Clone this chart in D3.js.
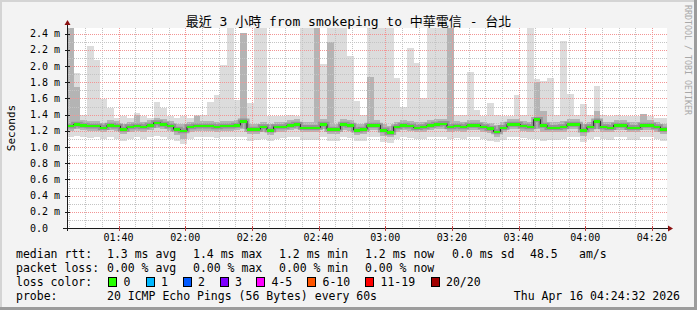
<!DOCTYPE html>
<html>
<head>
<meta charset="utf-8">
<script src="https://cdn.jsdelivr.net/npm/d3@7"></script>
<style>
  body { margin: 0; background: #f3f3f3; }
  svg { display: block; }
  text { font-family: "DejaVu Sans Mono", "Noto Sans CJK TC", monospace; }
</style>
</head>
<body>
<div id="chart"></div>
<script>
// time window and sampling
const startTime = new Date(2026, 3, 16, 1, 24, 32);
const endTime = new Date(2026, 3, 16, 4, 24, 32);
const stepMinutes = 2;

// median rtt per sample (ms)
const median = [
  1.26, 1.28, 1.27, 1.26, 1.26, 1.24, 1.27, 1.26, 1.22, 1.25,
  1.26, 1.25, 1.27, 1.30, 1.28, 1.26, 1.22, 1.20, 1.25, 1.26,
  1.26, 1.26, 1.25, 1.26, 1.26, 1.27, 1.32, 1.22, 1.22, 1.25,
  1.21, 1.25, 1.25, 1.27, 1.28, 1.24, 1.24, 1.24, 1.28, 1.22,
  1.22, 1.28, 1.27, 1.21, 1.22, 1.27, 1.27, 1.21, 1.18, 1.25,
  1.27, 1.26, 1.24, 1.25, 1.27, 1.28, 1.29, 1.25, 1.26, 1.25,
  1.27, 1.27, 1.25, 1.23, 1.19, 1.24, 1.28, 1.28, 1.26, 1.25,
  1.34, 1.27, 1.24, 1.24, 1.25, 1.28, 1.28, 1.21, 1.25, 1.32,
  1.25, 1.24, 1.27, 1.27, 1.24, 1.24, 1.27, 1.27, 1.25, 1.22
];
// smoke: slowest ping per sample
const smokeMax = [
  2.47, 1.92, 1.40, 2.25, 2.07, 1.59, 1.48, 1.36, 1.38, 1.36,
  1.42, 1.38, 1.36, 1.56, 1.48, 1.38, 1.36, 1.38, 1.36, 1.40,
  1.40, 1.56, 1.64, 2.01, 2.47, 1.58, 2.41, 1.54, 2.47, 2.47,
  1.38, 1.38, 1.38, 1.40, 1.38, 2.47, 2.47, 2.47, 2.02, 2.47,
  2.47, 2.47, 2.12, 1.57, 1.40, 2.47, 2.47, 2.47, 2.47, 1.85,
  1.50, 2.22, 2.04, 1.60, 2.47, 2.47, 2.47, 2.47, 1.40, 1.40,
  1.93, 1.46, 1.38, 1.54, 1.40, 1.38, 1.38, 1.64, 1.40, 2.47,
  1.84, 1.82, 1.85, 1.40, 2.31, 1.65, 1.40, 1.53, 1.40, 1.75,
  1.40, 1.38, 1.40, 1.38, 1.38, 1.38, 1.41, 1.38, 1.36, 1.36
];
// smoke: upper of the middle pings
const smokeHi = [
  2.47, 1.74, 1.33, 1.32, 1.32, 1.30, 1.33, 1.32, 1.29, 1.31,
  1.40, 1.31, 1.33, 1.36, 1.34, 1.32, 1.29, 1.28, 1.31, 1.38,
  1.32, 1.32, 1.31, 1.32, 1.32, 1.33, 2.41, 1.29, 1.29, 1.31,
  1.28, 1.31, 1.31, 1.33, 1.34, 1.31, 1.31, 2.47, 1.34, 2.30,
  1.29, 1.34, 1.33, 1.28, 1.29, 1.86, 1.33, 1.28, 1.26, 1.31,
  1.33, 1.32, 1.31, 1.31, 1.33, 1.34, 1.35, 2.47, 1.32, 1.31,
  1.33, 1.33, 1.31, 1.30, 1.27, 1.31, 1.34, 1.34, 1.32, 1.31,
  1.80, 1.45, 1.31, 1.31, 1.32, 1.34, 1.34, 1.28, 1.31, 1.45,
  1.31, 1.31, 1.33, 1.33, 1.31, 1.31, 1.41, 1.33, 1.31, 1.29
];
// smoke: lower of the middle pings
const smokeLo = [
  1.20, 1.22, 1.21, 1.20, 1.20, 1.18, 1.21, 1.20, 1.16, 1.19,
  1.20, 1.19, 1.21, 1.23, 1.22, 1.20, 1.15, 1.10, 1.19, 1.20,
  1.20, 1.20, 1.19, 1.20, 1.20, 1.21, 1.22, 1.16, 1.16, 1.19,
  1.15, 1.19, 1.19, 1.21, 1.22, 1.18, 1.18, 1.18, 1.22, 1.16,
  1.16, 1.21, 1.20, 1.15, 1.16, 1.21, 1.21, 1.14, 1.12, 1.19,
  1.21, 1.20, 1.18, 1.19, 1.21, 1.22, 1.22, 1.19, 1.20, 1.19,
  1.21, 1.21, 1.19, 1.17, 1.13, 1.18, 1.22, 1.22, 1.20, 1.19,
  1.22, 1.18, 1.18, 1.18, 1.19, 1.22, 1.22, 1.14, 1.19, 1.22,
  1.19, 1.18, 1.21, 1.21, 1.18, 1.18, 1.21, 1.21, 1.19, 1.16
];
// smoke: fastest ping per sample
const smokeMin = [
  1.13, 1.14, 1.12, 1.11, 1.12, 1.10, 1.12, 1.10, 1.08, 1.10,
  1.12, 1.10, 1.12, 1.14, 1.12, 1.10, 1.08, 1.04, 1.10, 1.12,
  1.12, 1.12, 1.11, 1.12, 1.12, 1.12, 1.12, 1.08, 1.09, 1.10,
  1.07, 1.10, 1.11, 1.12, 1.12, 1.09, 1.09, 1.09, 1.12, 1.07,
  1.07, 1.12, 1.11, 1.07, 1.08, 1.12, 1.12, 1.06, 1.05, 1.10,
  1.12, 1.11, 1.10, 1.10, 1.12, 1.13, 1.13, 1.10, 1.11, 1.10,
  1.12, 1.12, 1.10, 1.08, 1.06, 1.09, 1.12, 1.12, 1.11, 1.10,
  1.10, 1.08, 1.09, 1.09, 1.10, 1.12, 1.12, 1.06, 1.10, 1.12,
  1.10, 1.09, 1.12, 1.12, 1.09, 1.09, 1.12, 1.12, 1.10, 1.08
];

const yTicks = [0, 0.2, 0.4, 0.6, 0.8, 1.0, 1.2, 1.4, 1.6, 1.8, 2.0, 2.2, 2.4];
const yMax = 2.47;

const titleText = "最近 3 小時 from smokeping to 中華電信 - 台北";
const rttRow = ["median rtt:", "1.3 ms avg", "1.4 ms max", "1.2 ms min", "1.2 ms now", "0.0 ms sd", "48.5", "am/s"];
const lossRow = ["packet loss:", "0.00 % avg", "0.00 % max", "0.00 % min", "0.00 % now"];
const lossLabels = ["0", "1", "2", "3", "4-5", "6-10", "11-19", "20/20"];
const lossColorValues = ["#26ff00", "#00b8ff", "#0059ff", "#7e00ff", "#ff00ff", "#ff5500", "#ff0000", "#a10000"];
const probeText = "20 ICMP Echo Pings (56 Bytes) every 60s";
const stampText = "Thu Apr 16 04:24:32 2026";

const width = 697;
const height = 310;
const marginLeft = 67;
const marginRight = 30;
const marginTop = 28;
const marginBottom = 82;

const samples = median.map((m, i) => ({
  t0: d3.timeMinute.offset(startTime, i * stepMinutes),
  t1: d3.timeMinute.offset(startTime, (i + 1) * stepMinutes),
  m, max: smokeMax[i], hi: smokeHi[i], lo: smokeLo[i], min: smokeMin[i]
}));

const x = d3.scaleTime()
  .domain([startTime, endTime])
  .range([marginLeft, width - marginRight]);

const y = d3.scaleLinear()
  .domain([0, yMax])
  .range([height - marginBottom, marginTop]);

const svg = d3.select("#chart")
  .append("svg")
  .attr("width", width)
  .attr("height", height);

// frame
svg.append("rect").attr("width", width).attr("height", height).attr("fill", "#f3f3f3");
svg.append("path").attr("d", `M0,1H${width}M1,0V${height}`).attr("stroke", "#d4d4d4").attr("stroke-width", 2);
svg.append("path").attr("d", `M0,${height - 1.5}H${width}M${width - 1.5},0V${height}`).attr("stroke", "#9c9c9c").attr("stroke-width", 3);

// canvas
svg.append("rect")
  .attr("x", marginLeft).attr("y", marginTop)
  .attr("width", width - marginLeft - marginRight)
  .attr("height", height - marginTop - marginBottom)
  .attr("fill", "#ffffff");

// smoke
const smoke = svg.append("g").attr("shape-rendering", "crispEdges");
smoke.selectAll("rect.outer")
  .data(samples)
  .join("rect")
  .attr("class", "outer")
  .attr("x", d => x(d.t0))
  .attr("width", d => x(d.t1) - x(d.t0))
  .attr("y", d => y(d.max))
  .attr("height", d => y(d.min) - y(d.max))
  .attr("fill", "#dcdcdc");

smoke.selectAll("rect.inner")
  .data(samples)
  .join("rect")
  .attr("class", "inner")
  .attr("x", d => x(d.t0))
  .attr("width", d => x(d.t1) - x(d.t0))
  .attr("y", d => y(d.hi))
  .attr("height", d => y(d.lo) - y(d.hi))
  .attr("fill", "#b4b4b4");

// grid (dotted, pixel aligned)
const px = v => Math.round(v) + 0.5;
const grid = svg.append("g");
const minorY = d3.range(0.1, yMax, 0.2);
grid.selectAll("line.hminor")
  .data(minorY)
  .join("line")
  .attr("x1", marginLeft + 1).attr("x2", width - marginRight)
  .attr("y1", d => px(y(d))).attr("y2", d => px(y(d)))
  .attr("stroke", "#c4c4c4").attr("stroke-dasharray", "1,1");

const minorX = x.ticks(d3.timeMinute.every(5)).filter(t => t.getMinutes() % 20 !== 0);
grid.selectAll("line.vminor")
  .data(minorX)
  .join("line")
  .attr("x1", d => px(x(d))).attr("x2", d => px(x(d)))
  .attr("y1", marginTop).attr("y2", height - marginBottom)
  .attr("stroke", "#c4c4c4").attr("stroke-dasharray", "1,1");

grid.selectAll("line.hmajor")
  .data(yTicks.slice(1))
  .join("line")
  .attr("x1", marginLeft + 1).attr("x2", width - marginRight)
  .attr("y1", d => px(y(d))).attr("y2", d => px(y(d)))
  .attr("stroke", "#f29595").attr("stroke-dasharray", "1,1");

const majorX = x.ticks(d3.timeMinute.every(20));
grid.selectAll("line.vmajor")
  .data(majorX)
  .join("line")
  .attr("x1", d => px(x(d))).attr("x2", d => px(x(d)))
  .attr("y1", marginTop).attr("y2", height - marginBottom)
  .attr("stroke", "#f29595").attr("stroke-dasharray", "1,1");

// median: dark core, thin line, loss colour
const stepPoints = samples.map(d => [x(d.t0), y(d.m)]);
stepPoints.push([x(samples[samples.length - 1].t1), y(samples[samples.length - 1].m)]);
const stepLine = d3.line().curve(d3.curveStepAfter);

svg.append("path")
  .attr("d", stepLine(stepPoints))
  .attr("fill", "none").attr("stroke", "#7a7a7a").attr("stroke-width", 5)
  .attr("opacity", 0.55);

svg.append("path")
  .attr("d", stepLine(stepPoints))
  .attr("fill", "none").attr("stroke", "#202020").attr("stroke-width", 1);

svg.append("g").attr("shape-rendering", "crispEdges")
  .selectAll("rect")
  .data(samples)
  .join("rect")
  .attr("x", d => x(d.t0))
  .attr("width", d => x(d.t1) - x(d.t0))
  .attr("y", d => y(d.m) - 1)
  .attr("height", 2.5)
  .attr("fill", lossColorValues[0]);

// axes
const axisY = height - marginBottom;
svg.append("path")
  .attr("d", `M${marginLeft - 4},${axisY + 0.5}H${width - marginRight + 2}M${marginLeft + 0.5},${axisY + 3}V${marginTop - 5}`)
  .attr("stroke", "#1a1a1a").attr("fill", "none").attr("shape-rendering", "crispEdges");
svg.append("path")
  .attr("d", `M${width - marginRight + 1},${axisY - 2.5}L${width - marginRight + 6},${axisY + 0.5}L${width - marginRight + 1},${axisY + 3.5}Z`)
  .attr("fill", "#8b1010");
svg.append("path")
  .attr("d", `M${marginLeft - 2.5},${marginTop - 3}L${marginLeft + 0.5},${marginTop - 8}L${marginLeft + 3.5},${marginTop - 3}Z`)
  .attr("fill", "#8b1010");

// ticks
svg.append("g").selectAll("line")
  .data(yTicks)
  .join("line")
  .attr("x1", marginLeft - 2).attr("x2", marginLeft + 3)
  .attr("y1", d => px(y(d))).attr("y2", d => px(y(d)))
  .attr("stroke", "#1a1a1a").attr("shape-rendering", "crispEdges");
svg.append("g").selectAll("line")
  .data(majorX)
  .join("line")
  .attr("x1", d => px(x(d))).attr("x2", d => px(x(d)))
  .attr("y1", axisY - 2).attr("y2", axisY + 3)
  .attr("stroke", "#c04040").attr("shape-rendering", "crispEdges");

// tick labels
svg.append("g")
  .selectAll("text")
  .data(yTicks)
  .join("text")
  .attr("x", 30)
  .attr("y", d => y(d) + 3.5)
  .attr("font-size", 10)
  .attr("fill", "#000")
  .text(d => d === 0 ? "0.0" : d.toFixed(1) + " m");

svg.append("g")
  .selectAll("text")
  .data(majorX)
  .join("text")
  .attr("x", d => x(d))
  .attr("y", 241)
  .attr("text-anchor", "middle")
  .attr("font-size", 10)
  .attr("fill", "#000")
  .text(d => d3.timeFormat("%H:%M")(d));

// titles
svg.append("text")
  .attr("x", width / 2).attr("y", 26)
  .attr("text-anchor", "middle")
  .attr("font-size", 13)
  .attr("fill", "#000")
  .text(titleText);

svg.append("text")
  .attr("transform", `translate(14.5,${(marginTop + axisY) / 2}) rotate(-90)`)
  .attr("text-anchor", "middle")
  .attr("font-size", 11)
  .attr("fill", "#000")
  .text("Seconds");

svg.append("text")
  .attr("transform", "translate(685,5) rotate(90)")
  .attr("font-size", 8.3)
  .attr("fill", "#a8a8a8")
  .text("RRDTOOL / TOBI OETIKER");

// legend
const legend = svg.append("g").attr("font-size", 11.5).attr("fill", "#000");
const colX = [16, 107, 193, 279, 365, 452, 530, 579];

legend.selectAll("text.rtt")
  .data(rttRow)
  .join("text")
  .attr("class", "rtt")
  .attr("x", (d, i) => colX[i]).attr("y", 258)
  .text(d => d);

legend.selectAll("text.loss")
  .data(lossRow)
  .join("text")
  .attr("class", "loss")
  .attr("x", (d, i) => colX[i]).attr("y", 272)
  .text(d => d);

legend.append("text").attr("x", 16).attr("y", 286).text("loss color:");
const boxX = [108, 145.5, 182.5, 219.5, 256, 307, 365, 430.5];
lossLabels.forEach((label, i) => {
  legend.append("rect")
    .attr("x", boxX[i] + 0.5).attr("y", 277.5)
    .attr("width", 8).attr("height", 9)
    .attr("fill", lossColorValues[i])
    .attr("stroke", "#000").attr("shape-rendering", "crispEdges");
  legend.append("text")
    .attr("x", boxX[i] + 15.5).attr("y", 286)
    .text(label);
});

legend.append("text").attr("x", 16).attr("y", 300).text("probe:");
legend.append("text").attr("x", 107).attr("y", 300).text(probeText);
legend.append("text").attr("x", 680).attr("y", 300).attr("text-anchor", "end").text(stampText);
</script>
</body>
</html>
